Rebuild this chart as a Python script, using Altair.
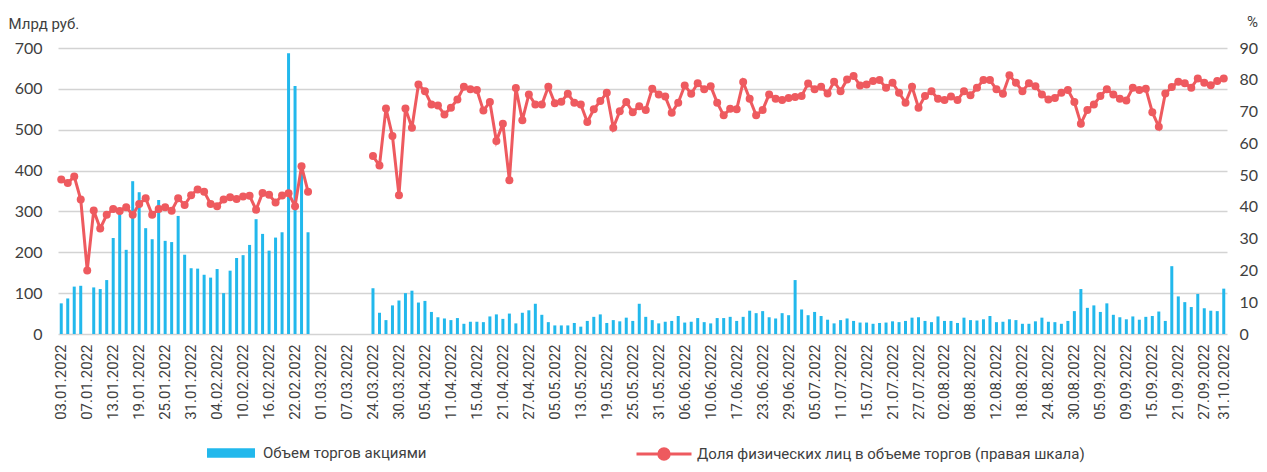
import altair as alt
import pandas as pd

# ---- categories: trading days (2022) ----
month_days = {
    "01": [3, 4, 5, 6, 7, 10, 11, 12, 13, 14, 17, 18, 19, 20, 21, 24, 25, 26, 27, 28, 31],
    "02": [1, 2, 3, 4, 7, 8, 9, 10, 11, 14, 15, 16, 17, 18, 21, 22, 24, 25, 28],
    "03": [1, 2, 3, 4, 7, 10, 16, 23, 24, 25, 28, 29, 30, 31],
    "04": [1, 4, 5, 6, 7, 8, 11, 12, 13, 14, 15, 18, 19, 20, 21, 22, 25, 26, 27, 28, 29],
    "05": [4, 5, 6, 11, 12, 13, 16, 17, 18, 19, 20, 23, 24, 25, 26, 27, 30, 31],
    "06": [1, 2, 3, 6, 7, 8, 9, 10, 14, 15, 16, 17, 20, 21, 22, 23, 24, 27, 28, 29, 30],
    "07": [1, 4, 5, 6, 7, 8, 11, 12, 13, 14, 15, 18, 19, 20, 21, 22, 25, 26, 27, 28, 29],
    "08": [1, 2, 3, 4, 5, 8, 9, 10, 11, 12, 15, 16, 17, 18, 19, 22, 23, 24, 25, 26, 29, 30, 31],
    "09": [1, 2, 5, 6, 7, 8, 9, 12, 13, 14, 15, 16, 19, 20, 21, 22, 23, 26, 27, 28, 29],
    "10": [31],
}
dates = [f"{d:02d}.{m}.2022" for m, days in month_days.items() for d in days]

# ---- series: stock trading volume, bn RUB ----
volume = [
    75, 87, 116, 118, 0, 114, 110, 132, 235, 298,
    206, 374, 347, 259, 232, 328, 228, 225, 289, 194,
    161, 160, 145, 138, 159, 100, 155, 186, 193, 218,
    281, 245, 204, 236, 249, 687, 607, 400, 249,
    None, None, None, None, None, None, None, None, None,
    112, 52, 34, 70, 82, 100,
    106, 77, 81, 54, 41, 38, 34, 39, 25, 30, 30, 29, 43, 48, 37, 50, 26, 52, 58, 74,
    47, 29, 21, 21, 21, 27,
    18, 32, 42, 48, 27, 34, 31, 40, 32, 74, 42, 34, 26, 30, 32, 44, 28, 30, 39, 29,
    26, 39, 39, 42, 32, 42,
    57, 51, 56, 41, 38, 51, 46, 132, 60, 46, 54, 44, 35, 26, 34, 38, 32, 28, 28, 25,
    27, 28, 31, 29, 32, 40, 41,
    32, 29, 43, 32, 32, 27, 40, 34, 33, 36, 44, 29, 30, 36, 34, 25, 25, 31, 40, 30,
    29, 25, 32, 56, 110, 64,
    70, 54, 75, 47, 41, 36, 43, 35, 42, 44, 55, 32, 166, 92, 78, 66, 98, 63, 57, 56, 111,
]

# ---- series: share of individuals, % ----
share = [
    48.6, 47.5, 49.6, 42.3, 20.0, 38.9, 33.2, 37.5, 39.3, 38.7,
    39.9, 37.5, 40.9, 42.7, 37.5, 39.3, 39.9, 38.8, 42.7, 40.6,
    43.7, 45.5, 44.8, 40.9, 40.2, 42.3, 43.0, 42.5, 43.3, 43.5,
    39.1, 44.4, 43.8, 41.4, 43.6, 44.3, 40.2, 52.8, 44.8,
    None, None, None, None, None, None, None, None, None,
    56.0, 53.0, 71.0, 62.3, 43.7, 71.0,
    64.9, 78.5, 76.4, 72.2, 71.9, 69.1, 71.2, 73.8, 77.8, 77.0, 76.8, 70.3, 73.0,
    60.7, 66.2, 48.4, 77.4, 67.3, 75.4, 72.2, 72.2, 77.8, 72.6, 73.1, 75.6, 72.8,
    72.2, 66.7, 70.7, 73.3, 75.9, 64.9, 70.1, 73.0, 69.8, 71.7, 70.5, 77.2, 75.4, 74.7,
    69.6, 72.8, 78.2, 75.6, 78.9, 77.0, 78.0, 72.8, 68.8, 70.9, 70.7, 79.3, 74.0, 68.8,
    70.5, 75.4, 74.0, 73.6, 74.3, 74.6, 74.9, 78.8, 77.0, 77.8, 75.7, 79.4, 76.4, 80.1,
    81.2, 78.2, 78.5, 79.6, 79.9, 77.5, 79.1, 75.9, 72.8, 77.8, 71.2, 74.9, 76.4,
    74.0, 73.6, 74.7, 73.6, 76.4, 75.1, 77.5, 79.9, 79.9, 77.0, 75.6, 81.4, 79.1, 76.4,
    78.9, 78.0, 75.4, 73.8, 74.3, 75.9, 76.8, 73.0, 66.2, 70.5,
    72.2, 74.9, 77.0, 75.4, 74.0, 73.5, 77.5, 76.8, 77.2, 69.8, 65.2, 75.7, 77.7, 79.4,
    78.9, 77.5, 80.4, 79.1, 78.3, 79.6, 80.4,
]

label_dates = [dates[i] for i in range(0, len(dates), 4)] + [dates[-1]]

bar_name = "Объем торгов акциями"
line_name = "Доля физических лиц в объеме торгов (правая шкала)"

BLUE = "#22B8EC"
RED = "#EE5A5F"
TXT = "#404040"
GRID = "#D3D3D3"

df = pd.DataFrame({"date": dates, "volume": volume, "share": share})
df["idx"] = range(len(df))
# separate line segments before/after the trading pause
first_after = df.index[df["date"] == "24.03.2022"][0]
df["seg"] = (df["idx"] >= first_after).astype(int)
df["s_bar"] = bar_name
df["s_line"] = line_name

x_enc = alt.X(
    "date:O",
    scale=alt.Scale(domain=dates, paddingInner=0, paddingOuter=0),
    axis=alt.Axis(
        values=label_dates, labelAngle=-90, labelAlign="right", labelBaseline="middle",
        labelPadding=10, labelFont="Roboto", labelFontSize=15, labelColor=TXT,
        labelOverlap=False, domain=False, ticks=False, grid=False, title=None,
    ),
)

bars = alt.Chart(df).mark_bar(size=3).encode(
    x=x_enc,
    y=alt.Y(
        "volume:Q",
        scale=alt.Scale(domain=[0, 700], nice=False),
        axis=alt.Axis(
            values=list(range(0, 701, 100)), grid=True, gridColor=GRID, gridWidth=1.5,
            domain=False, ticks=False, labelPadding=16, labelFont="Lato", labelFontSize=16,
            labelColor=TXT, title="Млрд руб.", titleAngle=0, titleX=-50, titleY=-25,
            titleAlign="left", titleBaseline="middle", titleFont="Roboto", titleFontSize=15,
            titleFontWeight="normal", titleColor=TXT,
        ),
    ),
    color=alt.Color(
        "s_bar:N",
        scale=alt.Scale(domain=[bar_name], range=[BLUE]),
        legend=alt.Legend(
            orient="none", legendX=149, legendY=381, title=None,
            symbolType="M-1,-0.2H1V0.2H-1Z", symbolSize=2304, symbolStrokeWidth=0,
            labelFont="Roboto", labelFontSize=15, labelColor=TXT, labelOffset=8,
            labelLimit=800,
        ),
    ),
)

line = alt.Chart(df).transform_filter("isValid(datum.share)").mark_line(
    strokeWidth=3, point=alt.OverlayMarkDef(filled=True, size=64)
).encode(
    x=x_enc,
    y=alt.Y(
        "share:Q",
        scale=alt.Scale(domain=[0, 90], nice=False),
        axis=alt.Axis(
            orient="right", values=list(range(0, 91, 10)), grid=False, domain=False,
            ticks=False, labelPadding=12, labelFont="Lato", labelFontSize=16,
            labelColor=TXT, title="%", titleAngle=0, titleX=25, titleY=-27,
            titleAlign="center", titleBaseline="middle", titleFont="Roboto",
            titleFontSize=15, titleFontWeight="normal", titleColor=TXT,
        ),
    ),
    color=alt.Color(
        "s_line:N",
        scale=alt.Scale(domain=[line_name], range=[RED]),
        legend=alt.Legend(
            orient="none", legendX=577, legendY=377, title=None,
            symbolType="M-1,0H1M-0.19,0A0.19,0.19,0,1,0,0.19,0A0.19,0.19,0,1,0,-0.19,0Z",
            symbolSize=3025, symbolStrokeWidth=3, symbolFillColor=RED,
            labelFont="Roboto", labelFontSize=15, labelColor=TXT, labelOffset=4,
            labelLimit=800,
        ),
    ),
    detail="seg:N",
)

chart = (
    alt.layer(bars, line)
    .resolve_scale(y="independent", color="independent")
    .resolve_legend(color="independent")
    .properties(
        width=1169, height=286, autosize=alt.AutoSizeParams(type="none"),
        padding={"left": 50, "top": 40, "right": 32, "bottom": 130},
    )
    .configure_view(stroke=None)
)

chart.save("out.html", embed_options={"renderer": "svg", "actions": False})
